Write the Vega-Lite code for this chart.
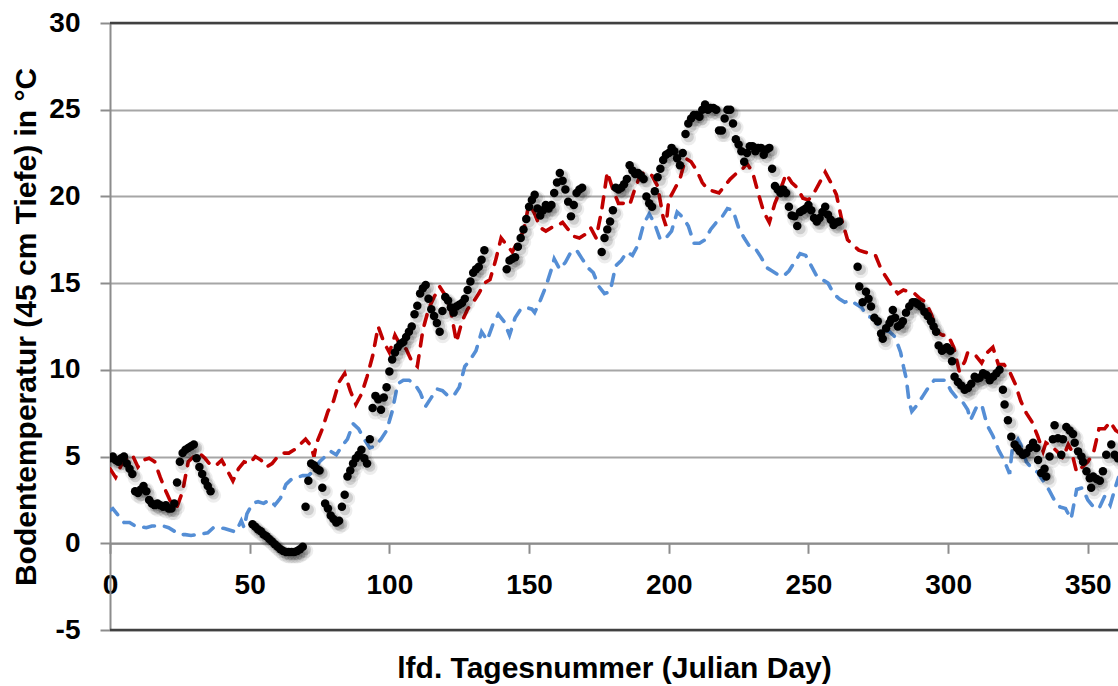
{
"$schema": "https://vega.github.io/schema/vega-lite/v6.json",
"width": 1008,
"height": 607,
"autosize": {"type": "none"},
"padding": {"left": 110, "top": 23, "right": 0, "bottom": 56},
"background": "white",
"config": {
  "view": {"stroke": null},
  "axis": {"labelFont": "Liberation Sans", "labelFontWeight": "bold", "labelFontSize": 28, "labelColor": "#000000",
    "titleFont": "Liberation Sans", "titleFontWeight": "bold", "titleFontSize": 30, "titleColor": "#000000",
    "domainColor": "#8c8c8c", "domainWidth": 2, "tickColor": "#8c8c8c", "tickWidth": 2, "gridColor": "#a6a6a6", "gridWidth": 2}
},
"datasets": {
"obs": [{"d":0,"t":4.9},{"d":1,"t":5.0},{"d":2,"t":4.8},{"d":3,"t":4.7},{"d":4,"t":4.9},{"d":5,"t":5.0},{"d":6,"t":4.6},{"d":7,"t":4.3},{"d":8,"t":4.0},{"d":9,"t":3.0},{"d":10,"t":2.9},{"d":11,"t":3.1},{"d":12,"t":3.3},{"d":13,"t":3.0},{"d":14,"t":2.5},{"d":15,"t":2.3},{"d":16,"t":2.2},{"d":17,"t":2.3},{"d":18,"t":2.2},{"d":19,"t":2.1},{"d":20,"t":2.2},{"d":21,"t":2.0},{"d":22,"t":2.0},{"d":23,"t":2.3},{"d":24,"t":3.5},{"d":25,"t":4.7},{"d":26,"t":5.2},{"d":27,"t":5.4},{"d":28,"t":5.5},{"d":29,"t":5.6},{"d":30,"t":5.7},{"d":31,"t":4.9},{"d":32,"t":4.4},{"d":33,"t":4.0},{"d":34,"t":3.6},{"d":35,"t":3.3},{"d":36,"t":3.0},
{"d":51,"t":1.1},{"d":52,"t":0.95},{"d":53,"t":0.8},{"d":54,"t":0.7},{"d":55,"t":0.5},{"d":56,"t":0.4},{"d":57,"t":0.25},{"d":58,"t":0.1},{"d":59,"t":-0.05},{"d":60,"t":-0.2},{"d":61,"t":-0.35},{"d":62,"t":-0.45},{"d":63,"t":-0.5},{"d":64,"t":-0.5},{"d":65,"t":-0.5},{"d":66,"t":-0.5},{"d":67,"t":-0.45},{"d":68,"t":-0.35},{"d":69,"t":-0.2},
{"d":70,"t":2.1},{"d":71,"t":3.6},{"d":72,"t":4.6},{"d":73,"t":4.5},{"d":74,"t":4.3},{"d":75,"t":4.2},{"d":76,"t":3.2},{"d":77,"t":2.3},{"d":78,"t":2.0},{"d":79,"t":1.6},{"d":80,"t":1.4},{"d":81,"t":1.2},{"d":82,"t":1.3},{"d":83,"t":2.1},{"d":84,"t":2.8},{"d":85,"t":3.85},{"d":86,"t":4.2},{"d":87,"t":4.6},{"d":88,"t":4.9},{"d":89,"t":5.1},{"d":90,"t":5.4},{"d":91,"t":4.9},{"d":92,"t":4.6},{"d":93,"t":6.0},{"d":94,"t":7.8},{"d":95,"t":8.5},{"d":96,"t":8.3},{"d":97,"t":7.7},{"d":98,"t":8.4},{"d":99,"t":9.0},{"d":100,"t":9.9},{"d":101,"t":10.6},{"d":102,"t":11.0},{"d":103,"t":11.3},{"d":104,"t":11.5},{"d":105,"t":11.6},{"d":106,"t":11.9},{"d":107,"t":12.2},{"d":108,"t":12.5},{"d":109,"t":13.2},{"d":110,"t":13.7},{"d":111,"t":14.4},{"d":112,"t":14.7},{"d":113,"t":14.9},{"d":114,"t":14.1},{"d":115,"t":13.5},{"d":116,"t":13.1},{"d":117,"t":12.7},{"d":118,"t":12.2},{"d":119,"t":13.4},{"d":120,"t":14.2},{"d":121,"t":14.0},{"d":122,"t":13.6},{"d":123,"t":13.3},{"d":124,"t":13.65},{"d":125,"t":13.75},{"d":126,"t":13.85},{"d":127,"t":14.1},{"d":128,"t":14.6},{"d":129,"t":15.1},{"d":130,"t":15.6},{"d":131,"t":15.8},{"d":132,"t":15.95},{"d":133,"t":16.35},{"d":134,"t":16.9},
{"d":142,"t":15.8},{"d":143,"t":16.3},{"d":144,"t":16.4},{"d":145,"t":16.5},{"d":146,"t":17.1},{"d":147,"t":17.6},{"d":148,"t":18.1},{"d":149,"t":18.7},{"d":150,"t":19.4},{"d":151,"t":19.8},{"d":152,"t":20.1},{"d":153,"t":19.3},{"d":154,"t":18.9},{"d":155,"t":19.2},{"d":156,"t":19.5},{"d":157,"t":19.3},{"d":158,"t":19.5},{"d":159,"t":20.2},{"d":160,"t":20.8},{"d":161,"t":21.35},{"d":162,"t":20.9},{"d":163,"t":20.4},{"d":164,"t":19.7},{"d":165,"t":18.85},{"d":166,"t":19.5},{"d":167,"t":20.2},{"d":168,"t":20.4},{"d":169,"t":20.5},
{"d":176,"t":16.8},{"d":177,"t":17.6},{"d":178,"t":18.1},{"d":179,"t":18.55},{"d":180,"t":19.2},{"d":181,"t":20.5},{"d":182,"t":20.4},{"d":183,"t":20.5},{"d":184,"t":20.7},{"d":185,"t":21.0},{"d":186,"t":21.8},{"d":187,"t":21.5},{"d":188,"t":21.3},{"d":189,"t":21.35},{"d":190,"t":21.2},{"d":191,"t":21.0},{"d":192,"t":20.0},{"d":193,"t":19.6},{"d":194,"t":19.4},{"d":195,"t":20.3},{"d":196,"t":21.1},{"d":197,"t":21.6},{"d":198,"t":22.1},{"d":199,"t":22.4},{"d":200,"t":22.5},{"d":201,"t":22.8},{"d":202,"t":22.6},{"d":203,"t":22.2},{"d":204,"t":21.8},{"d":205,"t":22.5},{"d":206,"t":23.6},{"d":207,"t":24.2},{"d":208,"t":24.5},{"d":209,"t":24.7},{"d":210,"t":24.7},{"d":211,"t":24.6},{"d":212,"t":25.0},{"d":213,"t":25.3},{"d":214,"t":25.0},{"d":215,"t":25.1},{"d":216,"t":25.1},{"d":217,"t":25.0},{"d":218,"t":23.8},{"d":219,"t":23.8},{"d":220,"t":24.5},{"d":221,"t":25.0},{"d":222,"t":25.0},{"d":223,"t":24.2},{"d":224,"t":23.3},{"d":225,"t":23.0},{"d":226,"t":22.6},{"d":227,"t":22.0},{"d":228,"t":22.5},{"d":229,"t":22.9},{"d":230,"t":22.9},{"d":231,"t":22.6},{"d":232,"t":22.8},{"d":233,"t":22.8},{"d":234,"t":22.4},{"d":235,"t":22.7},{"d":236,"t":22.8},{"d":237,"t":21.6},{"d":238,"t":20.6},{"d":239,"t":20.4},{"d":240,"t":20.2},{"d":241,"t":20.4},{"d":242,"t":20.2},{"d":243,"t":19.4},{"d":244,"t":18.9},{"d":245,"t":18.85},{"d":246,"t":18.3},{"d":247,"t":19.1},{"d":248,"t":19.2},{"d":249,"t":19.3},{"d":250,"t":19.5},{"d":251,"t":19.2},{"d":252,"t":18.75},{"d":253,"t":18.55},{"d":254,"t":18.75},{"d":255,"t":19.1},{"d":256,"t":19.4},{"d":257,"t":18.95},{"d":258,"t":18.65},{"d":259,"t":18.35},{"d":260,"t":18.5},{"d":261,"t":18.55},
{"d":267.6,"t":15.95},{"d":268.2,"t":14.8},{"d":269.4,"t":13.9},{"d":270.6,"t":14.5},{"d":271.5,"t":14.1},{"d":272.4,"t":13.65},{"d":273.6,"t":13.0},{"d":274.8,"t":12.8},{"d":276,"t":12.1},{"d":276.6,"t":11.8},{"d":277.8,"t":12.4},{"d":279,"t":12.7},{"d":279.6,"t":12.9},{"d":280.2,"t":13.45},{"d":281,"t":13.0},{"d":282,"t":12.5},{"d":283,"t":12.6},{"d":283.8,"t":12.8},{"d":284.9,"t":13.3},{"d":286.1,"t":13.65},{"d":287.3,"t":13.9},{"d":288.2,"t":13.9},{"d":289.1,"t":13.8},{"d":290.3,"t":13.65},{"d":291.5,"t":13.35},{"d":292.7,"t":13.1},{"d":293.9,"t":12.8},{"d":294.8,"t":12.5},{"d":295.7,"t":12.2},{"d":296.6,"t":11.4},{"d":297.8,"t":11.1},{"d":298.7,"t":11.2},{"d":299.6,"t":11.3},{"d":300.8,"t":11.1},{"d":301.4,"t":10.5},{"d":302.3,"t":9.6},{"d":303.5,"t":9.3},{"d":304.7,"t":9.1},{"d":305.9,"t":8.85},{"d":307.1,"t":8.95},{"d":308.3,"t":9.2},{"d":309.5,"t":9.6},{"d":310.5,"t":9.5},{"d":311.3,"t":9.55},{"d":312.5,"t":9.8},{"d":313.7,"t":9.7},{"d":314.9,"t":9.4},{"d":316.1,"t":9.6},{"d":317.3,"t":9.8},{"d":318.4,"t":10.0},{"d":319.6,"t":8.85},{"d":320.2,"t":8.0},{"d":321.4,"t":7.1},{"d":322.6,"t":6.15},{"d":323.8,"t":5.7},{"d":324.7,"t":5.5},{"d":325.6,"t":5.3},{"d":326.8,"t":5.1},{"d":328,"t":5.2},{"d":329.2,"t":5.5},{"d":330.4,"t":5.8},{"d":331.6,"t":5.5},{"d":332.2,"t":4.8},{"d":333.3,"t":4.05},{"d":334.5,"t":4.3},{"d":335.1,"t":3.85},{"d":336.3,"t":5.0},{"d":337.5,"t":6.0},{"d":338.1,"t":6.8},{"d":339.3,"t":6.05},{"d":340.5,"t":5.1},{"d":341.1,"t":6.0},{"d":342.3,"t":6.7},{"d":343.5,"t":6.5},{"d":344.7,"t":6.3},{"d":345.3,"t":5.8},{"d":346.5,"t":5.3},{"d":347.7,"t":5.0},{"d":348.3,"t":4.7},{"d":349.5,"t":4.15},{"d":350.7,"t":3.75},{"d":351.2,"t":3.2},{"d":351.9,"t":3.85},{"d":353.1,"t":3.7},{"d":354.3,"t":3.6},{"d":355.4,"t":4.15},{"d":356.6,"t":5.1},{"d":358.4,"t":5.7},{"d":359.6,"t":5.1},{"d":360.8,"t":4.9}],
"red": [{"d":0,"t":4.3},{"d":2,"t":3.8},{"d":4,"t":4.5},{"d":6,"t":4.9},{"d":8,"t":5.1},{"d":10,"t":4.4},{"d":12,"t":4.8},{"d":14,"t":4.9},{"d":16,"t":4.7},{"d":18,"t":3.8},{"d":20,"t":3.0},{"d":22,"t":2.3},{"d":24,"t":2.1},{"d":26,"t":3.0},{"d":28,"t":4.7},{"d":30,"t":5.0},{"d":32,"t":5.2},{"d":34,"t":4.9},{"d":36,"t":4.5},{"d":38,"t":4.5},{"d":40,"t":4.8},{"d":42,"t":4.2},{"d":44,"t":3.6},{"d":46,"t":4.3},{"d":48,"t":4.7},{"d":50,"t":4.6},{"d":52,"t":5.0},{"d":54,"t":4.8},{"d":56,"t":4.4},{"d":58,"t":4.6},{"d":60,"t":5.0},{"d":62,"t":5.2},{"d":64,"t":5.2},{"d":66,"t":5.4},{"d":68,"t":5.7},{"d":70,"t":6.0},{"d":72,"t":5.6},{"d":73,"t":5.0},{"d":74,"t":5.8},{"d":76,"t":6.6},{"d":78,"t":7.6},{"d":80,"t":8.2},{"d":82,"t":9.3},{"d":84,"t":9.8},{"d":86,"t":8.8},{"d":88,"t":8.0},{"d":90,"t":8.6},{"d":92,"t":9.6},{"d":94,"t":10.8},{"d":96,"t":12.5},{"d":98,"t":11.6},{"d":100,"t":11.0},{"d":102,"t":12.0},{"d":104,"t":11.4},{"d":106,"t":11.2},{"d":108,"t":10.5},{"d":110,"t":10.2},{"d":112,"t":12.3},{"d":114,"t":13.5},{"d":116,"t":14.2},{"d":118,"t":14.8},{"d":120,"t":14.3},{"d":122,"t":13.4},{"d":124,"t":11.6},{"d":126,"t":12.8},{"d":128,"t":13.5},{"d":130,"t":13.9},{"d":132,"t":14.4},{"d":134,"t":15.0},{"d":136,"t":15.2},{"d":138,"t":16.3},{"d":140,"t":17.6},{"d":142,"t":17.2},{"d":144,"t":16.8},{"d":146,"t":17.4},{"d":148,"t":18.0},{"d":150,"t":19.6},{"d":152,"t":19.0},{"d":154,"t":18.2},{"d":156,"t":18.0},{"d":158,"t":18.2},{"d":160,"t":18.3},{"d":162,"t":18.5},{"d":164,"t":18.1},{"d":166,"t":17.7},{"d":168,"t":17.6},{"d":170,"t":17.8},{"d":172,"t":18.2},{"d":174,"t":17.6},{"d":176,"t":19.2},{"d":178,"t":21.4},{"d":180,"t":20.4},{"d":182,"t":19.6},{"d":184,"t":19.6},{"d":186,"t":19.5},{"d":188,"t":20.5},{"d":190,"t":21.3},{"d":192,"t":21.4},{"d":194,"t":21.2},{"d":196,"t":20.6},{"d":198,"t":18.8},{"d":199,"t":18.3},{"d":200,"t":19.8},{"d":202,"t":20.4},{"d":204,"t":21.0},{"d":206,"t":22.2},{"d":208,"t":22.0},{"d":210,"t":21.5},{"d":212,"t":20.8},{"d":214,"t":20.4},{"d":216,"t":20.3},{"d":218,"t":20.2},{"d":220,"t":20.6},{"d":222,"t":21.0},{"d":224,"t":21.3},{"d":226,"t":21.5},{"d":228,"t":21.9},{"d":230,"t":21.4},{"d":232,"t":20.2},{"d":234,"t":19.1},{"d":236,"t":18.5},{"d":238,"t":19.6},{"d":240,"t":20.4},{"d":242,"t":21.3},{"d":244,"t":20.8},{"d":246,"t":20.5},{"d":248,"t":19.9},{"d":250,"t":19.8},{"d":252,"t":20.2},{"d":254,"t":20.8},{"d":256,"t":21.4},{"d":258,"t":20.8},{"d":260,"t":20.1},{"d":262,"t":18.6},{"d":264,"t":17.5},{"d":266,"t":17.2},{"d":268,"t":16.9},{"d":270,"t":16.8},{"d":272,"t":16.7},{"d":274,"t":16.6},{"d":276,"t":15.8},{"d":278,"t":15.3},{"d":280,"t":14.8},{"d":282,"t":14.4},{"d":284,"t":14.6},{"d":286,"t":14.5},{"d":288,"t":14.4},{"d":290,"t":14.1},{"d":292,"t":13.9},{"d":294,"t":13.2},{"d":296,"t":12.2},{"d":298,"t":12.0},{"d":300,"t":12.0},{"d":302,"t":11.3},{"d":304,"t":9.9},{"d":306,"t":10.5},{"d":307,"t":11.0},{"d":310,"t":10.8},{"d":312,"t":10.4},{"d":314,"t":11.0},{"d":316,"t":11.3},{"d":318,"t":10.3},{"d":320,"t":10.3},{"d":322,"t":9.9},{"d":324,"t":9.2},{"d":326,"t":8.2},{"d":328,"t":7.5},{"d":330,"t":7.0},{"d":332,"t":6.2},{"d":334,"t":5.3},{"d":335,"t":5.8},{"d":337,"t":5.6},{"d":339,"t":5.3},{"d":341,"t":4.9},{"d":343,"t":5.7},{"d":344,"t":5.4},{"d":346,"t":4.1},{"d":348,"t":4.4},{"d":350,"t":4.7},{"d":352,"t":5.2},{"d":354,"t":6.6},{"d":356,"t":6.6},{"d":358,"t":7.0},{"d":360,"t":6.5},{"d":361,"t":6.4}],
"blue": [{"d":0,"t":1.9},{"d":1,"t":2.0},{"d":3,"t":1.6},{"d":5,"t":1.2},{"d":7,"t":1.2},{"d":9,"t":1.0},{"d":11,"t":0.95},{"d":13,"t":0.9},{"d":15,"t":1.0},{"d":17,"t":1.0},{"d":19,"t":1.0},{"d":21,"t":0.9},{"d":23,"t":0.7},{"d":25,"t":0.5},{"d":27,"t":0.5},{"d":29,"t":0.45},{"d":31,"t":0.5},{"d":33,"t":0.55},{"d":35,"t":0.6},{"d":37,"t":0.9},{"d":39,"t":0.9},{"d":41,"t":0.85},{"d":43,"t":0.75},{"d":45,"t":0.65},{"d":47,"t":1.3},{"d":48,"t":0.9},{"d":49,"t":1.7},{"d":51,"t":2.3},{"d":53,"t":2.4},{"d":55,"t":2.3},{"d":57,"t":2.5},{"d":59,"t":2.2},{"d":61,"t":2.6},{"d":63,"t":3.4},{"d":65,"t":3.7},{"d":67,"t":3.8},{"d":69,"t":3.9},{"d":71,"t":3.9},{"d":73,"t":4.2},{"d":75,"t":4.7},{"d":77,"t":5.0},{"d":79,"t":5.3},{"d":81,"t":5.1},{"d":83,"t":5.6},{"d":85,"t":6.0},{"d":87,"t":6.9},{"d":89,"t":6.6},{"d":91,"t":6.0},{"d":93,"t":5.5},{"d":95,"t":5.6},{"d":97,"t":6.0},{"d":99,"t":6.5},{"d":101,"t":7.6},{"d":103,"t":9.2},{"d":105,"t":9.4},{"d":107,"t":9.4},{"d":109,"t":9.2},{"d":111,"t":8.7},{"d":113,"t":7.9},{"d":115,"t":8.4},{"d":117,"t":8.9},{"d":119,"t":8.8},{"d":121,"t":8.5},{"d":123,"t":8.5},{"d":125,"t":9.0},{"d":127,"t":10.2},{"d":129,"t":10.6},{"d":131,"t":11.1},{"d":133,"t":12.2},{"d":135,"t":11.7},{"d":137,"t":12.6},{"d":139,"t":13.2},{"d":141,"t":12.8},{"d":143,"t":12.0},{"d":145,"t":13.0},{"d":147,"t":13.5},{"d":149,"t":13.6},{"d":151,"t":13.5},{"d":152,"t":13.3},{"d":154,"t":14.0},{"d":156,"t":14.8},{"d":158,"t":15.8},{"d":159,"t":16.4},{"d":161,"t":15.8},{"d":163,"t":16.2},{"d":165,"t":16.8},{"d":167,"t":16.9},{"d":169,"t":16.4},{"d":171,"t":15.9},{"d":173,"t":15.6},{"d":175,"t":14.8},{"d":177,"t":14.4},{"d":179,"t":14.5},{"d":181,"t":16.0},{"d":183,"t":16.3},{"d":185,"t":16.8},{"d":187,"t":16.6},{"d":189,"t":17.2},{"d":191,"t":18.4},{"d":193,"t":19.0},{"d":195,"t":18.4},{"d":197,"t":17.5},{"d":199,"t":17.6},{"d":201,"t":18.0},{"d":203,"t":19.1},{"d":205,"t":18.8},{"d":207,"t":18.3},{"d":209,"t":17.3},{"d":211,"t":17.3},{"d":213,"t":17.5},{"d":215,"t":18.1},{"d":217,"t":18.5},{"d":219,"t":18.8},{"d":221,"t":19.3},{"d":223,"t":19.2},{"d":225,"t":18.2},{"d":227,"t":17.6},{"d":229,"t":17.1},{"d":231,"t":17.0},{"d":233,"t":16.5},{"d":235,"t":15.9},{"d":237,"t":15.7},{"d":239,"t":15.5},{"d":241,"t":15.4},{"d":243,"t":15.7},{"d":245,"t":16.2},{"d":247,"t":16.7},{"d":249,"t":16.6},{"d":251,"t":16.0},{"d":253,"t":15.4},{"d":255,"t":15.2},{"d":257,"t":15.0},{"d":259,"t":14.4},{"d":261,"t":14.1},{"d":263,"t":13.9},{"d":265,"t":14.0},{"d":267,"t":13.8},{"d":269,"t":13.6},{"d":271,"t":13.1},{"d":273,"t":13.0},{"d":275,"t":12.6},{"d":277,"t":12.3},{"d":279,"t":12.2},{"d":281,"t":11.9},{"d":283,"t":11.0},{"d":284,"t":10.2},{"d":285,"t":9.5},{"d":286,"t":8.2},{"d":287,"t":7.6},{"d":289,"t":8.0},{"d":291,"t":8.5},{"d":293,"t":9.0},{"d":295,"t":9.4},{"d":297,"t":9.4},{"d":299,"t":9.4},{"d":301,"t":8.8},{"d":303,"t":8.4},{"d":305,"t":8.2},{"d":307,"t":7.7},{"d":308,"t":7.1},{"d":310,"t":7.8},{"d":312,"t":8.0},{"d":314,"t":6.8},{"d":316,"t":6.2},{"d":318,"t":5.4},{"d":320,"t":4.8},{"d":322,"t":4.0},{"d":323,"t":5.5},{"d":325,"t":6.0},{"d":326,"t":5.7},{"d":328,"t":4.7},{"d":330,"t":4.3},{"d":332,"t":4.1},{"d":334,"t":3.6},{"d":336,"t":3.1},{"d":338,"t":2.5},{"d":340,"t":2.1},{"d":342,"t":2.0},{"d":344,"t":1.4},{"d":346,"t":3.1},{"d":348,"t":3.2},{"d":350,"t":2.5},{"d":352,"t":2.1},{"d":354,"t":2.0},{"d":356,"t":2.7},{"d":358,"t":2.2},{"d":360,"t":3.3},{"d":361,"t":3.8}]
},
"layer": [
  {"data": {"name": "blue"},
   "mark": {"type": "line", "color": "#558ED5", "strokeWidth": 3.6, "strokeDash": [11, 10], "strokeCap": "round", "clip": true},
   "encoding": {
     "x": {"field": "d", "type": "quantitative", "scale": {"domain": [0, 360.8], "nice": false},
       "title": "lfd. Tagesnummer (Julian Day)",
       "axis": {"values": [0, 50, 100, 150, 200, 250, 300, 350], "offset": -86.7, "grid": false, "tickSize": 10, "labelPadding": 18, "titlePadding": 54, "labelOverlap": false, "labelFlush": false, "labelBound": false, "domainColor": "#8c8c8c"}},
     "y": {"field": "t", "type": "quantitative", "scale": {"domain": [-5, 30], "nice": false},
       "title": "Bodentemperatur (45 cm Tiefe)  in °C",
       "axis": {"values": [-5, 0, 5, 10, 15, 20, 25, 30], "labelExpr": "datum.value + ''", "grid": true, "tickSize": 10, "labelPadding": 20, "titlePadding": 7, "labelOverlap": false, "labelFlush": false}}
   }},
  {"data": {"name": "red"},
   "mark": {"type": "line", "color": "#C00000", "strokeWidth": 3.6, "strokeDash": [11, 10], "strokeCap": "round", "clip": true},
   "encoding": {
     "x": {"field": "d", "type": "quantitative", "title": "lfd. Tagesnummer (Julian Day)"},
     "y": {"field": "t", "type": "quantitative", "title": "Bodentemperatur (45 cm Tiefe)  in °C"}
   }},
  {"data": {"name": "obs"},
   "mark": {"type": "circle", "color": "#000000", "opacity": 0.07, "size": 230, "xOffset": 3, "yOffset": 4, "clip": true},
   "encoding": {
     "x": {"field": "d", "type": "quantitative", "title": "lfd. Tagesnummer (Julian Day)"},
     "y": {"field": "t", "type": "quantitative", "title": "Bodentemperatur (45 cm Tiefe)  in °C"}
   }},
  {"data": {"name": "obs"},
   "mark": {"type": "circle", "color": "#000000", "opacity": 0.13, "size": 115, "xOffset": 3, "yOffset": 3, "clip": true},
   "encoding": {
     "x": {"field": "d", "type": "quantitative", "title": "lfd. Tagesnummer (Julian Day)"},
     "y": {"field": "t", "type": "quantitative", "title": "Bodentemperatur (45 cm Tiefe)  in °C"}
   }},
  {"data": {"name": "obs"},
   "mark": {"type": "circle", "color": "#000000", "opacity": 1, "size": 72, "clip": true},
   "encoding": {
     "x": {"field": "d", "type": "quantitative", "title": "lfd. Tagesnummer (Julian Day)"},
     "y": {"field": "t", "type": "quantitative", "title": "Bodentemperatur (45 cm Tiefe)  in °C"}
   }},
  {"data": {"values": [{"lim": -5}, {"lim": 30}]},
   "mark": {"type": "rule", "color": "#404040", "strokeWidth": 2.5},
   "encoding": {
     "y": {"field": "lim", "type": "quantitative", "title": "Bodentemperatur (45 cm Tiefe)  in °C"}
   }}
]
}
